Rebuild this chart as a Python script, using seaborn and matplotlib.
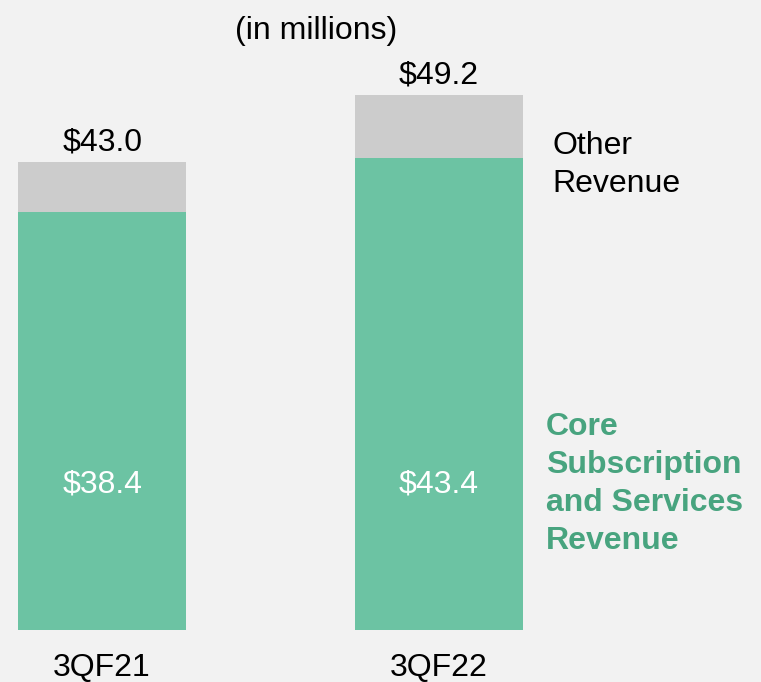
import matplotlib
matplotlib.use("Agg")
import matplotlib.pyplot as plt
import seaborn as sns

# data
quarters = ['3QF21', '3QF22']
total_rev = [43.0, 49.2]
core_rev = [38.4, 43.4]
total_labels = ['$43.0', '$49.2']
core_labels = ['$38.4', '$43.4']

bg = '#F2F2F2'
green = '#6CC3A3'
gray = '#CCCCCC'
label_green = '#48A47F'

sns.set_theme(style='white')
plt.rcParams['font.family'] = ['Liberation Sans', 'DejaVu Sans']

fig = plt.figure(figsize=(7.61, 6.82), dpi=100, facecolor=bg)
ax = fig.add_axes([0, 52 / 682, 1, 630 / 682])
ax.set_facecolor(bg)

sns.barplot(x=quarters, y=total_rev, color=gray, width=0.5, saturation=1, linewidth=0, ax=ax)
sns.barplot(x=quarters, y=core_rev, color=green, width=0.5, saturation=1, linewidth=0, ax=ax)

ax.set_xlim(-0.3035, 1.958)
ax.set_ylim(0, 57.9)
sns.despine(ax=ax, left=True, bottom=True)
ax.set_yticks([])

fs = 23
ax.tick_params(axis='x', length=0, pad=16.5, labelsize=fs, labelcolor='black')

for i in range(len(quarters)):
    ax.annotate(total_labels[i], (i, total_rev[i]), xytext=(0, 3), textcoords='offset points',
                ha='center', va='bottom', fontsize=fs, color='black')
    ax.text(i, 13.4, core_labels[i], ha='center', va='center', fontsize=fs, color='white')

fig.text(316 / 761, 1 - 31 / 682, '(in millions)', ha='center', va='center', fontsize=fs, color='black')
fig.text(552 / 761, 1 - 165 / 682, 'Other\nRevenue', ha='left', va='center', fontsize=fs,
         color='black', linespacing=1.36)
fig.text(546 / 761, 1 - 484 / 682, 'Core\nSubscription\nand Services\nRevenue', ha='left', va='center',
         fontsize=fs, fontweight='bold', color=label_green, linespacing=1.36)

fig.savefig('out.png', dpi=100, facecolor=bg)
